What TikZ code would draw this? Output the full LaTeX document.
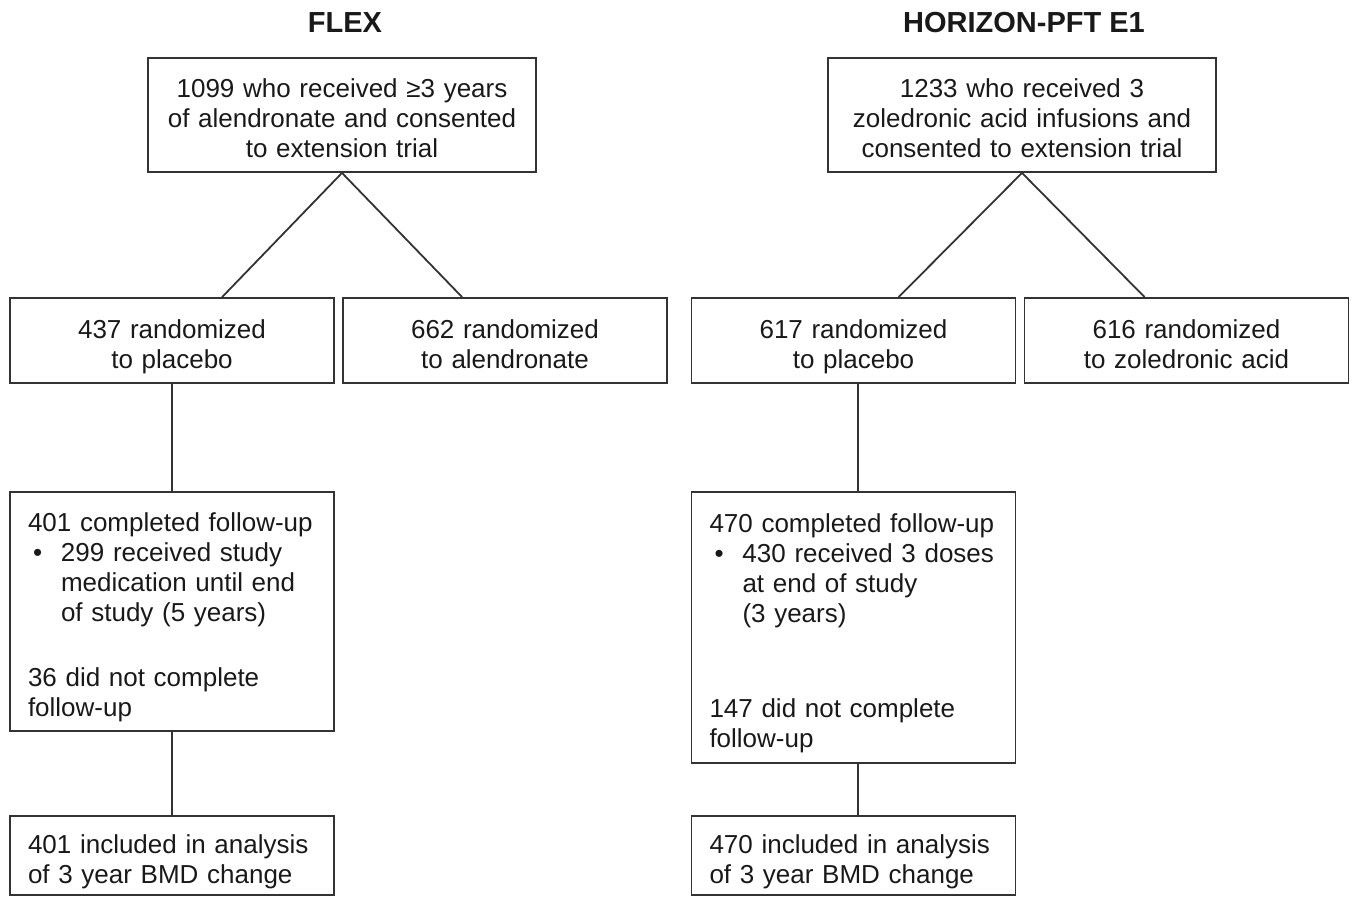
\documentclass[tikz,border=0pt]{standalone}
\usepackage{fontspec}
\setmainfont{Liberation Sans}

\begin{document}
\begin{tikzpicture}[x=1pt,y=-1pt,
        box/.style={draw=black!80, line width=1.8pt, rectangle, inner sep=0pt,
            text=black!90, font=\fontsize{26}{30}\selectfont, align=center,
            execute at begin node={\rule{0pt}{31pt}},
            execute at end node={\rule[-6pt]{0pt}{6pt}}},
        topbox/.style={box, text width=388pt, minimum height=114pt},
        armbox/.style={box, text width=324pt, minimum height=85pt},
        leftbox/.style={box, align=left, text width=288pt, inner xsep=18pt},
        title/.style={font=\fontsize{29}{34}\selectfont\bfseries, text=black!90},
        link/.style={draw=black!80, line width=1.8pt}]

        \useasboundingbox (0,0) rectangle (1353,897);

        % FLEX
        \node[title] (flexttl) at (345,23) {FLEX};
        \node[topbox] (flextop) at (342,115)
            {1099 who received ≥3 years\\of alendronate and consented\\to extension trial};
        \node[armbox] (flexpla) at (172,340.5) {437 randomized\\to placebo};
        \node[armbox] (flexaln) at (505,340.5) {662 randomized\\to alendronate};
        \node[leftbox, minimum height=239pt] (flexfu) at (172,611.5)
            {401 completed follow-up\\
            \makebox[33pt][l]{\hspace{5pt}•}299 received study\\
            \hspace*{33pt}medication until end\\
            \hspace*{33pt}of study (5 years)\\[35pt]
            36 did not complete\\
            follow-up};
        \node[leftbox, minimum height=79pt] (flexbmd) at (172,855.5)
            {401 included in analysis\\of 3 year BMD change};

        % HORIZON-PFT E1
        \node[title] (hzttl) at (1024,23) {HORIZON-PFT E1};
        \node[topbox] (hztop) at (1022,115)
            {1233 who received 3\\zoledronic acid infusions and\\consented to extension trial};
        \node[armbox] (hzpla) at (853.5,340.5) {617 randomized\\to placebo};
        \node[armbox] (hzzol) at (1186.5,340.5) {616 randomized\\to zoledronic acid};
        \node[leftbox, minimum height=271pt] (hzfu) at (853.5,627.5)
            {470 completed follow-up\\
            \makebox[33pt][l]{\hspace{5pt}•}430 received 3 doses\\
            \hspace*{33pt}at end of study\\
            \hspace*{33pt}(3 years)\\[65pt]
            147 did not complete\\
            follow-up};
        \node[leftbox, minimum height=79pt] (hzbmd) at (853.5,855.5)
            {470 included in analysis\\of 3 year BMD change};

        \draw[link] (flextop.south) -- ([xshift=213pt]flexpla.north west);
        \draw[link] (flextop.south) -- ([xshift=120pt]flexaln.north west);
        \draw[link] (flexpla) -- (flexfu);
        \draw[link] (flexfu) -- (flexbmd);

        \draw[link] (hztop.south) -- ([xshift=208pt]hzpla.north west);
        \draw[link] (hztop.south) -- ([xshift=121pt]hzzol.north west);
        \draw[link] ([xshift=4.5pt]hzpla.south) -- ([xshift=4.5pt]hzfu.north);
        \draw[link] ([xshift=4.5pt]hzfu.south) -- ([xshift=4.5pt]hzbmd.north);

    \end{tikzpicture}
\end{document}
